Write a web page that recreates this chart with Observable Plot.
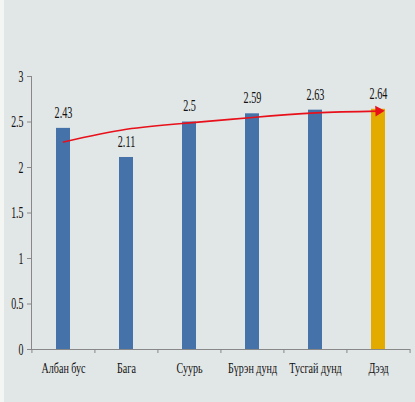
<!DOCTYPE html>
<html><head><meta charset="utf-8">
<script src="https://cdn.jsdelivr.net/npm/d3@7"></script>
<script src="https://cdn.jsdelivr.net/npm/@observablehq/plot@0.6"></script>
<style>
html,body{margin:0;padding:0;background:#f4f6f4;}
#wrap{position:absolute;left:4px;top:0;width:411px;height:402px;background:#e1e6e6;}
#chart{position:absolute;left:-4px;top:0;}
svg{background:transparent;overflow:visible;}
</style>
</head><body>
<div id="wrap"><div id="chart"></div></div>
<script>
const categories = ["Албан бус", "Бага", "Суурь", "Бүрэн дунд", "Тусгай дунд", "Дээд"];
const values = [2.43, 2.11, 2.5, 2.59, 2.63, 2.64];
const trend = [2.28, 2.42, 2.49, 2.55, 2.60, 2.62];
const highlight = "Дээд";
const yTicks = [0, 0.5, 1, 1.5, 2, 2.5, 3];

const data = categories.map((c, i) => ({cat: c, value: values[i], trend: trend[i]}));
const last = data[data.length - 1];
const step = (415 - 31 - 5) / 6;

const plot = Plot.plot({
  width: 415, height: 402,
  marginLeft: 31, marginRight: 5, marginTop: 76, marginBottom: 53,
  style: {background: "transparent", fontFamily: "'Liberation Serif', serif", color: "#111"},
  x: {type: "band", domain: categories, paddingInner: 0.78, paddingOuter: 0.39, axis: null, label: null},
  y: {domain: [0, 3], axis: null, label: null},
  marks: [
    Plot.barY(data, {x: "cat", y: "value", fill: d => d.cat === highlight ? "#e3ab00" : "#4672aa"}),
    Plot.line(data, {x: "cat", y: "trend", stroke: "#e8101a", strokeWidth: 1.6, curve: "natural"}),
    Plot.dot([last], {x: "cat", y: "trend", symbol: "triangle", r: 4, rotate: 88, fill: "#e8101a", stroke: "none"}),
    Plot.text(data, {x: "cat", y: "value", text: d => String(d.value), dy: -16, lineAnchor: "middle", fontSize: 17, fill: "#111", className: "vlab"}),
    Plot.axisY({ticks: yTicks, tickSize: 4, tickPadding: 4, fontSize: 17, stroke: "#888", fill: "#111", tickFormat: d => String(d), label: null, className: "ylab"}),
    Plot.ruleY([0], {stroke: "#888", strokeWidth: 1}),
    Plot.axisX({ticks: categories, tickSize: 4, dx: -step / 2, stroke: "#888", tickFormat: () => "", label: null}),
    Plot.axisX({ticks: [categories[categories.length - 1]], tickSize: 4, dx: step / 2, stroke: "#888", tickFormat: () => "", label: null}),
    Plot.axisX({ticks: categories, tickSize: 0, tickPadding: 14, fontSize: 14, fill: "#111", label: null, className: "xlab"})
  ]
});
document.getElementById("chart").appendChild(plot);
// y axis line
const svg = d3.select(plot);
svg.append("line").attr("x1", 31.5).attr("x2", 31.5).attr("y1", 76).attr("y2", 349).attr("stroke", "#888");
// condensed serif look
function squeeze(sel, f) {
  plot.querySelectorAll(sel).forEach(t => {
    const L = t.getComputedTextLength();
    if (L > 0) { t.setAttribute("textLength", L * f); t.setAttribute("lengthAdjust", "spacingAndGlyphs"); }
  });
}
squeeze(".vlab text", 0.6);
squeeze(".ylab text", 0.58);
squeeze(".xlab text", 0.72);
</script>
</body></html>
